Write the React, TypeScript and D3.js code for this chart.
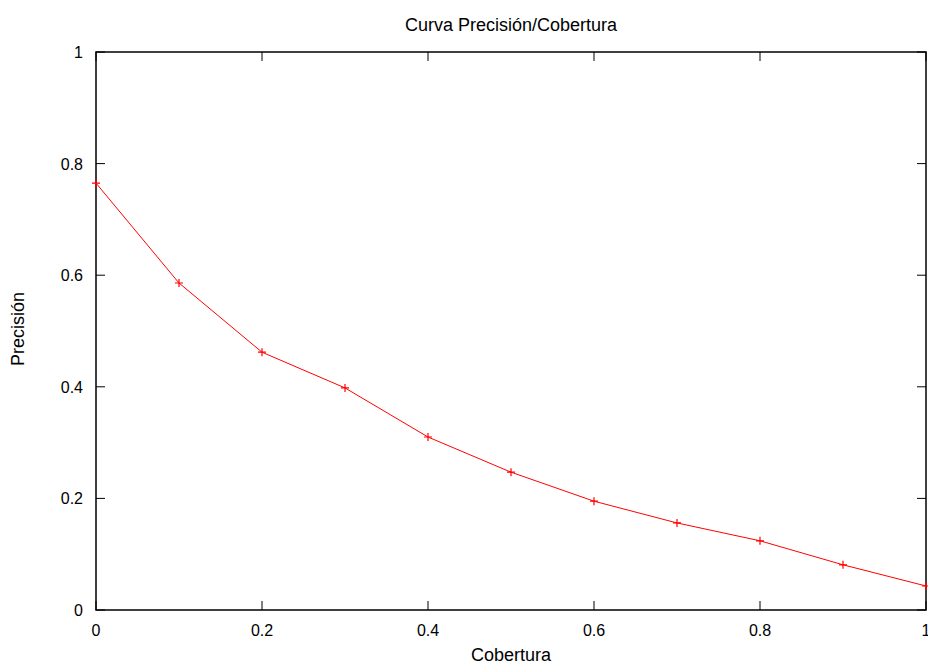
import React from "react";
import * as d3 from "d3";

const recall = [0, 0.1, 0.2, 0.3, 0.4, 0.5, 0.6, 0.7, 0.8, 0.9, 1.0];
const precision = [0.765, 0.586, 0.462, 0.398, 0.31, 0.247, 0.195, 0.156, 0.124, 0.081, 0.043];
const xTicks = [0, 0.2, 0.4, 0.6, 0.8, 1];
const yTicks = [0, 0.2, 0.4, 0.6, 0.8, 1];

const W = 928;
const H = 664;
const margin = { top: 52, right: 2, bottom: 54, left: 96 };
const font = "Liberation Sans, Arial, Helvetica, sans-serif";

export default function App() {
  const x = d3.scaleLinear().domain([0, 1]).range([margin.left, W - margin.right]);
  const y = d3.scaleLinear().domain([0, 1]).range([H - margin.bottom, margin.top]);
  const pts = recall.map((r, i) => [r, precision[i]] as [number, number]);
  const line = d3
    .line<[number, number]>()
    .x((d) => x(d[0]))
    .y((d) => y(d[1]));
  const fmt = (v: number) => (v === 0 || v === 1 ? String(v) : v.toFixed(1));
  const x0 = x(0), x1 = x(1), y0 = y(0), y1 = y(1);
  const tick = 9;

  return (
    <svg
      width={W}
      height={H}
      style={{ position: "absolute", left: 0, top: 0, background: "#fff" }}
      fontFamily={font}
    >
      <rect x={0} y={0} width={W} height={H} fill="#fff" />
      {/* ticks */}
      {yTicks.map((t) => (
        <g key={"y" + t}>
          <line x1={x0} x2={x0 + tick} y1={y(t)} y2={y(t)} stroke="#000" />
          <line x1={x1 - tick} x2={x1} y1={y(t)} y2={y(t)} stroke="#000" />
          <text x={x0 - 13} y={y(t) + 6} textAnchor="end" fontSize={16}>
            {fmt(t)}
          </text>
        </g>
      ))}
      {xTicks.map((t) => (
        <g key={"x" + t}>
          <line x1={x(t)} x2={x(t)} y1={y0} y2={y0 - tick} stroke="#000" />
          <line x1={x(t)} x2={x(t)} y1={y1} y2={y1 + tick} stroke="#000" />
          <text x={x(t)} y={y0 + 26} textAnchor="middle" fontSize={16}>
            {fmt(t)}
          </text>
        </g>
      ))}
      {/* frame */}
      <rect x={x0} y={y1} width={x1 - x0} height={y0 - y1} fill="none" stroke="#000" strokeWidth={1.5} />
      {/* series */}
      <path d={line(pts) ?? ""} fill="none" stroke="#ff0000" strokeWidth={1} />
      {pts.map((d, i) => (
        <path
          key={i}
          d={`M${x(d[0]) - 4},${y(d[1])}h8M${x(d[0])},${y(d[1]) - 4}v8`}
          stroke="#ff0000"
          strokeWidth={1.2}
        />
      ))}
      {/* labels */}
      <text x={511} y={31} textAnchor="middle" fontSize={18}>
        Curva Precisión/Cobertura
      </text>
      <text x={511} y={661} textAnchor="middle" fontSize={18}>
        Cobertura
      </text>
      <text
        transform={`translate(24,${(y0 + y1) / 2 - 2}) rotate(-90)`}
        textAnchor="middle"
        fontSize={18}
      >
        Precisión
      </text>
    </svg>
  );
}
